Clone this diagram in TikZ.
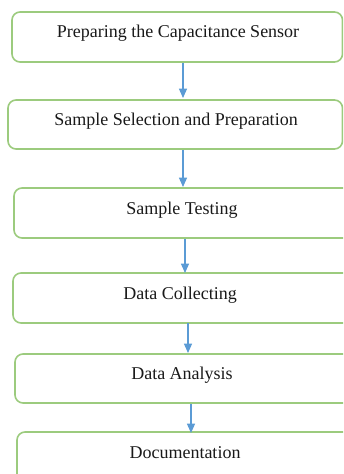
\documentclass[tikz,border=0pt]{standalone}
\usepackage{fontspec}
\setmainfont{Liberation Serif}
\usetikzlibrary{arrows.meta}
\definecolor{boxgreen}{HTML}{9CCB7E}
\definecolor{arrblue}{HTML}{5B9BD5}
\begin{document}
\begin{tikzpicture}[x=0.75pt,y=-0.75pt,
  stepbox/.style={draw=boxgreen,line width=1.2pt,rounded corners=6pt},
  lbl/.style={font=\fontsize{13.5pt}{15pt}\selectfont,text=black!90,inner sep=0pt},
  conn/.style={draw=arrblue,line width=0.9pt,-{Triangle[length=7pt,width=6pt]}}]
\useasboundingbox (0,0) rectangle (343,474);
\clip (0,0) rectangle (343,474);
\draw[stepbox] (12,12) rectangle (342.5,62);
\draw[stepbox] (8,100) rectangle (342.5,149);
\draw[stepbox] (14,188) rectangle (360,238);
\draw[stepbox] (13,273) rectangle (360,323);
\draw[stepbox] (15,354) rectangle (360,403);
\draw[stepbox] (17,432) rectangle (360,500);
\node[lbl] (t1) at (178,33) {Preparing the Capacitance Sensor};
\node[lbl] (t2) at (176,121) {Sample Selection and Preparation};
\node[lbl] (t3) at (182,210) {Sample Testing};
\node[lbl] (t4) at (180,295) {Data Collecting};
\node[lbl] (t5) at (182,375) {Data Analysis};
\node[lbl] (t6) at (185,453) {Documentation};
\coordinate (a1s) at (183,63); \coordinate (a1e) at (183,98);
\coordinate (a2s) at (183,150); \coordinate (a2e) at (183,187);
\coordinate (a3s) at (185,239); \coordinate (a3e) at (185,273);
\coordinate (a4s) at (188,323); \coordinate (a4e) at (188,353);
\coordinate (a5s) at (191,404); \coordinate (a5e) at (191,433);
\draw[conn] (a1s) -- (a1e);
\draw[conn] (a2s) -- (a2e);
\draw[conn] (a3s) -- (a3e);
\draw[conn] (a4s) -- (a4e);
\draw[conn] (a5s) -- (a5e);
\end{tikzpicture}
\end{document}
